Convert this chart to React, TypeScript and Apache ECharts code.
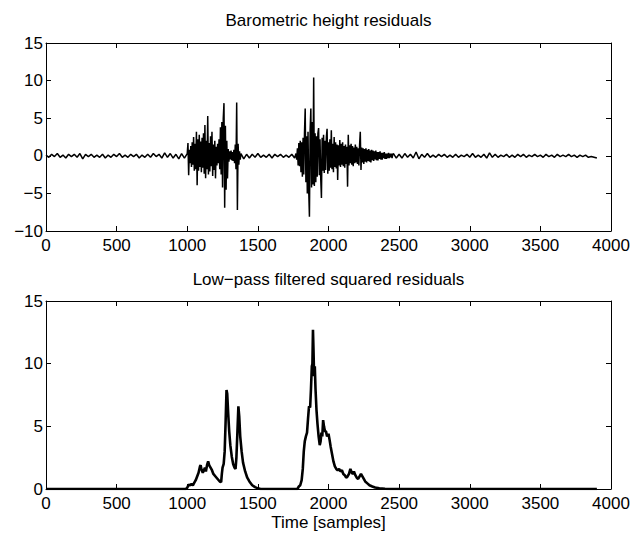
import React, { useEffect, useRef } from "react";
import * as echarts from "echarts";

// ---- data ----
const xTicks = { min: 0, max: 4000, interval: 500 };
const topYRange = { min: -10, max: 15, interval: 5 };
const bottomYRange = { min: 0, max: 15, interval: 5 };

const topTitle = "Barometric height residuals";
const bottomTitle = "Low\u2212pass filtered squared residuals";
const xLabel = "Time [samples]";

// Residuals, quiet part 0..980, every 20 samples
const quietA = [
  0.1, -0.2, 0.2, -0.1, 0.3, -0.2, 0.1, -0.3, 0.2, -0.1,
  0.2, -0.2, 0.3, -0.4, 0.2, -0.1, 0.2, -0.2, 0.1, -0.2,
  0.2, -0.3, 0.1, -0.2, 0.2, -0.1, 0.3, -0.2, 0.1, -0.2,
  0.2, -0.1, 0.2, -0.3, 0.1, -0.2, 0.2, -0.2, 0.3, -0.1,
  0.2, -0.3, 0.4, -0.2, 0.3, -0.3, 0.2, -0.4, 0.3, -0.3,
];
// Residuals, first burst 1000..1375, every 5 samples
const burst1 = [
  0.3, 1.7, -2.6, 0.8, -1.0, 1.3, -1.5, 1.8, -1.2, 2.5,
  -2.0, 1.6, -1.8, 3.2, -3.9, 2.2, -2.0, 2.8, -1.5, 1.9,
  -2.2, 2.4, -1.6, 3.0, -2.4, 4.1, -3.0, 2.0, -1.8, 5.3,
  -2.5, 1.7, -2.1, 2.6, -1.4, 3.2, -2.7, 1.5, -1.9, 2.0,
  -3.0, 1.2, -1.3, 1.6, -1.0, 2.2, -1.8, 3.8, -2.5, 4.5,
  -4.2, 5.0, 7.0, -6.9, 4.0, -4.5, 2.0, -3.0, 0.9, -0.8,
  0.6, -0.5, 0.7, -0.6, 0.5, -0.7, 0.8, -1.0, 1.5, -1.8,
  7.1, -7.2, 1.6, -1.2, 0.6, -0.5,
];
// Residuals, quiet part 1380..1760, every 20 samples
const quietB = [
  0.3, -0.4, 0.2, -0.3, 0.2, -0.2, 0.3, -0.2, 0.1, -0.2,
  0.2, -0.3, 0.2, -0.1, 0.2, -0.2, 0.1, -0.2, 0.2, -0.3,
];
// Residuals, second burst 1770..2455, every 5 samples
const burst2 = [
  0.3, -0.5, 1.0, -1.3, 1.7, -1.4, 2.0, -2.2, 1.8, -2.8,
  2.4, -2.5, 3.0, 6.3, -3.5, 2.6, -5.0, 3.2, -4.6, -8.1,
  3.4, 6.3, -4.2, 4.5, -3.8, 10.4, -4.0, 3.0, -3.5, 2.6,
  -2.8, 3.0, 3.7, -2.6, 2.2, -3.0, -5.6, 2.4, -2.0, 2.8,
  -2.3, 2.0, -1.9, 2.5, 3.6, -2.4, 1.8, -2.0, 2.2, -1.6,
  3.4, -1.8, 1.6, -2.2, 2.5, -1.5, 1.8, -1.7, 1.5, -3.2,
  1.4, -1.3, 2.1, -1.5, 1.6, -1.2, 1.8, -1.4, 1.3, -1.6,
  1.5, -1.1, 1.2, -4.1, 2.8, -1.3, 1.4, -1.0, 1.6, -1.2,
  1.3, -1.4, 1.1, -1.0, 1.5, -0.9, 1.2, -1.1, 1.0, -1.3,
  1.4, 3.2, -1.9, 1.1, -0.9, 1.0, -1.1, 0.9, -0.8, 1.0,
  -0.9, 0.8, -0.7, 0.9, -0.8, 0.7, -0.9, 0.8, -0.6, 0.7,
  -0.7, 0.6, -0.5, 0.7, -0.6, 0.5, -0.6, 0.5, -0.4, 0.6,
  -0.5, 0.4, -0.5, 0.4, -0.3, 0.5, -0.4, 0.3, -0.4, 0.3,
  -0.3, 0.4, -0.3, 0.3, -0.2, 0.3, -0.3, 0.2,
];
// Residuals, quiet part 2460..3900, every 20 samples
const quietC = [
  0.3, -0.3, 0.2, -0.3, 0.3, -0.2, 0.2, -0.3, 0.5, -0.4,
  0.2, -0.2, 0.3, -0.2, 0.1, -0.2, 0.2, -0.1, 0.2, -0.2,
  0.1, -0.2, 0.2, -0.2, 0.1, -0.1, 0.2, -0.2, 0.3, -0.2,
  0.1, -0.2, 0.2, -0.3, 0.4, -0.2, 0.2, -0.2, 0.1, -0.1,
  0.2, -0.2, 0.1, -0.2, 0.2, -0.1, 0.2, -0.2, 0.1, -0.1,
  0.2, -0.1, 0.1, -0.2, 0.2, -0.1, 0.1, -0.2, 0.2, -0.1,
  0.1, -0.1, 0.2, -0.1, 0.1, -0.2, 0.1, -0.1, 0.1, -0.2,
  -0.1, -0.2, -0.3,
];
const residualSegments = [
  { start: 0, step: 20, values: quietA },
  { start: 1000, step: 5, values: burst1 },
  { start: 1380, step: 20, values: quietB },
  { start: 1770, step: 5, values: burst2 },
  { start: 2460, step: 20, values: quietC },
];

// Low-pass filtered squared residuals
const lpX = [
  0, 990, 1000, 1010, 1020, 1030, 1040, 1050, 1060, 1070, 1080, 1090, 1095, 1100,
  1110, 1118, 1125, 1132, 1140, 1148, 1155, 1165, 1175, 1185, 1200, 1215, 1230,
  1240, 1245, 1250, 1258, 1265, 1272, 1278, 1283, 1290, 1297, 1305, 1315, 1325,
  1335, 1342, 1348, 1355, 1362, 1368, 1375, 1385, 1395, 1410, 1425, 1440, 1460,
  1480, 1500, 1520, 1780, 1790, 1800, 1810, 1818, 1825, 1832, 1840, 1848, 1855,
  1862, 1870, 1876, 1882, 1886, 1890, 1894, 1898, 1903, 1908, 1915, 1922, 1930,
  1938, 1944, 1950, 1956, 1962, 1968, 1975, 1982, 1990, 2000, 2008, 2015, 2025,
  2035, 2045, 2055, 2065, 2075, 2085, 2095, 2105, 2115, 2125, 2135, 2145, 2155,
  2165, 2172, 2180, 2190, 2200, 2210, 2220, 2230, 2240, 2250, 2260, 2275, 2290,
  2310, 2330, 2360, 2400, 2440, 3900,
];
const lpY = [
  0, 0, 0.1, 0.35, 0.3, 0.4, 0.3, 0.5, 0.7, 1.0, 1.3, 1.8, 1.9, 1.6,
  1.3, 1.5, 1.7, 1.4, 1.9, 2.2, 1.9, 1.7, 1.5, 1.2, 1.0, 0.8, 0.6,
  0.55, 1.2, 1.7, 2.0, 3.0, 5.5, 7.9, 7.6, 6.0, 4.6, 3.5, 2.6, 2.0,
  1.7, 1.6, 2.5, 4.5, 6.6, 5.8, 4.2, 3.0, 2.1, 1.4, 0.9, 0.6, 0.3,
  0.15, 0.05, 0, 0, 0.2, 0.3, 0.7, 1.6, 3.0, 3.8, 4.2, 4.5, 5.6,
  6.6, 6.5, 8.0, 9.8, 10.0, 12.7, 11.0, 9.0, 9.8, 8.0, 6.3, 5.2, 4.2,
  3.5, 3.8, 4.5, 4.2, 5.5, 5.0, 4.6, 4.6, 4.2, 4.4, 3.9, 3.4, 2.8,
  2.2, 1.8, 1.6, 1.5, 1.6, 1.4, 1.5, 1.2, 1.1, 0.9, 1.0, 1.2, 1.6,
  1.3, 1.2, 1.4, 1.1, 0.9, 0.8, 1.0, 1.2, 1.0, 0.8, 0.6, 0.45, 0.3,
  0.2, 0.12, 0.06, 0.02, 0, 0,
];

const FONT = "Liberation Sans, Arial, Helvetica, sans-serif";

export default function App() {
  const ref = useRef<HTMLDivElement>(null);

  useEffect(() => {
    if (!ref.current) return;
    const chart = echarts.init(ref.current, undefined, { renderer: "svg" });

    const residuals: number[][] = [];
    residualSegments.forEach((seg) => {
      seg.values.forEach((v, i) => residuals.push([seg.start + i * seg.step, v]));
    });
    const lowpass = lpX.map((x, i) => [x, lpY[i]]);

    const axisLine = { show: true, onZero: false, lineStyle: { color: "#000", width: 1 } };
    const axisTick = { show: true, inside: true, length: 5, lineStyle: { color: "#000", width: 1 } };
    const label = { color: "#000", fontSize: 17, fontFamily: FONT };
    const plain = (v: number) => String(v).replace("-", "\u2212");

    const grids = [
      { left: 46, top: 43, width: 565, height: 188 },
      { left: 46, top: 301, width: 565, height: 188 },
    ];

    const xAxes: any[] = [];
    const yAxes: any[] = [];
    [0, 1].forEach((g) => {
      xAxes.push({
        gridIndex: g, type: "value", position: "bottom", ...xTicks,
        axisLine, axisTick, splitLine: { show: false },
        axisLabel: { ...label, margin: 6, formatter: plain },
        ...(g === 1
          ? { name: xLabel, nameLocation: "middle", nameGap: 25, nameTextStyle: { ...label } }
          : {}),
      });
      xAxes.push({
        gridIndex: g, type: "value", position: "top", ...xTicks,
        axisLine, axisTick, splitLine: { show: false }, axisLabel: { show: false },
      });
      const yr = g === 0 ? topYRange : bottomYRange;
      yAxes.push({
        gridIndex: g, type: "value", position: "left", ...yr,
        axisLine, axisTick, splitLine: { show: false },
        axisLabel: { ...label, margin: 3, formatter: plain },
      });
      yAxes.push({
        gridIndex: g, type: "value", position: "right", ...yr,
        axisLine, axisTick, splitLine: { show: false }, axisLabel: { show: false },
      });
    });

    chart.setOption({
      animation: false,
      backgroundColor: "#fff",
      grid: grids,
      xAxis: xAxes,
      yAxis: yAxes,
      graphic: [
        {
          type: "text", x: 328.5, y: 20,
          style: { text: topTitle, fill: "#000", font: `17px ${FONT}`, textAlign: "center", textVerticalAlign: "middle" },
        },
        {
          type: "text", x: 328.5, y: 279,
          style: { text: bottomTitle, fill: "#000", font: `17px ${FONT}`, textAlign: "center", textVerticalAlign: "middle" },
        },
      ],
      series: [
        {
          type: "line", xAxisIndex: 0, yAxisIndex: 0, data: residuals,
          showSymbol: false, symbol: "none",
          lineStyle: { color: "#000", width: 1.5 },
        },
        {
          type: "line", xAxisIndex: 2, yAxisIndex: 2, data: lowpass,
          showSymbol: false, symbol: "none",
          lineStyle: { color: "#000", width: 2.6 },
        },
      ],
    });

    return () => chart.dispose();
  }, []);

  return (
    <div
      ref={ref}
      style={{ position: "fixed", left: 0, top: 0, width: 637, height: 539, background: "#fff" }}
    />
  );
}
